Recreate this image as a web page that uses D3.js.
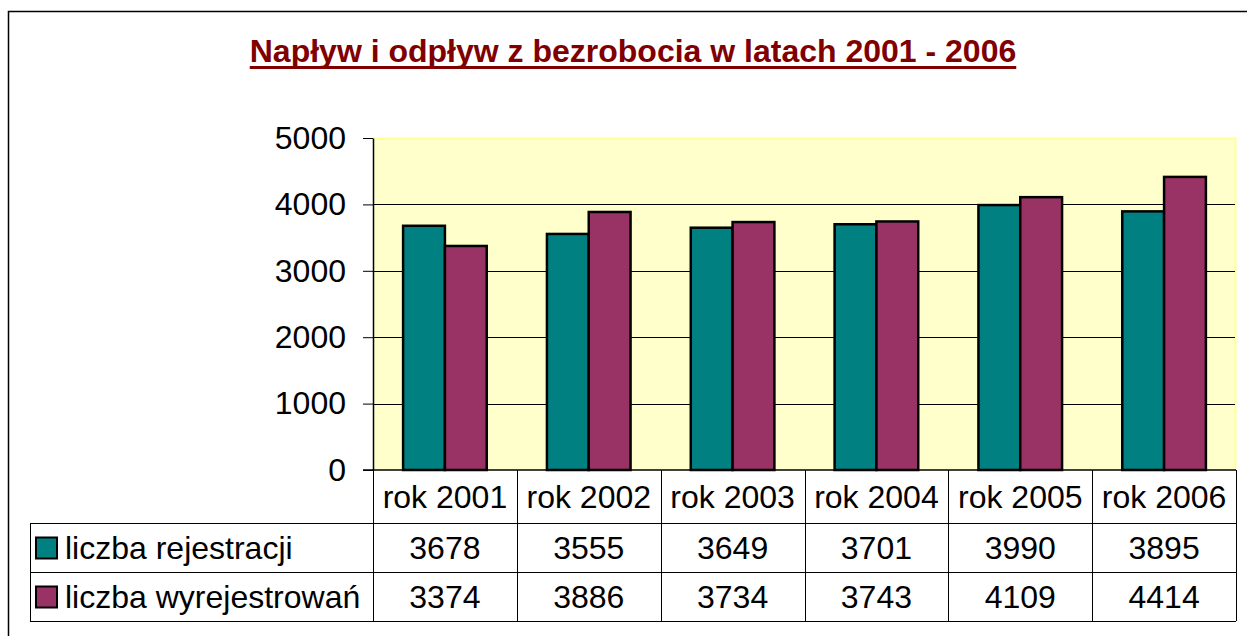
<!DOCTYPE html>
<html>
<head>
<meta charset="utf-8">
<script src="https://cdn.jsdelivr.net/npm/d3@7"></script>
<style>
  body { margin: 0; background: #fff; }
  text { font-family: Arial, "Liberation Sans", sans-serif; }
</style>
</head>
<body>
<script>
const years = ["rok 2001", "rok 2002", "rok 2003", "rok 2004", "rok 2005", "rok 2006"];
const seriesNames = ["liczba rejestracji", "liczba wyrejestrowań"];
const rejestracje = [3678, 3555, 3649, 3701, 3990, 3895];
const wyrejestrowania = [3374, 3886, 3734, 3743, 4109, 4414];
const yTicks = [0, 1000, 2000, 3000, 4000, 5000];
const seriesColors = ["#008080", "#993366"];
const titleText = "Napływ i odpływ z bezrobocia w latach 2001 - 2006";

const width = 1247, height = 636;
const plot = { left: 373, right: 1236, top: 138, bottom: 470 };
const tableLeft = 30;
const rowLines = [470, 523, 572, 621];
const fontSize = "32px";

const svg = d3.select("body").append("svg")
  .attr("width", width)
  .attr("height", height);

// outer chart frame
svg.append("rect")
  .attr("x", 8.5).attr("y", 11.5)
  .attr("width", 1260).attr("height", 650)
  .attr("fill", "#fff")
  .attr("stroke", "#000")
  .attr("stroke-width", 1.5);

// title
const title = svg.append("text")
  .attr("x", 633).attr("y", 62)
  .attr("text-anchor", "middle")
  .attr("fill", "#800000")
  .style("font-weight", "bold")
  .style("font-size", fontSize)
  .text(titleText);
const tb = title.node().getBBox();
svg.append("rect")
  .attr("x", tb.x).attr("y", 66)
  .attr("width", tb.width).attr("height", 3)
  .attr("fill", "#800000");

const x = d3.scaleBand()
  .domain(years)
  .range([plot.left, plot.right]);

const xs = d3.scaleBand()
  .domain(seriesNames)
  .range([0, x.bandwidth()])
  .paddingOuter(0.72);

const y = d3.scaleLinear()
  .domain([0, 5000])
  .range([plot.bottom, plot.top]);

// plot area
svg.append("rect")
  .attr("x", plot.left).attr("y", plot.top)
  .attr("width", plot.right - plot.left)
  .attr("height", plot.bottom - plot.top)
  .attr("fill", "#FFFFCC");
svg.append("path")
  .attr("d", `M${plot.left},${plot.top + 0.5}H${plot.right - 0.5}V${plot.bottom}`)
  .attr("fill", "none")
  .attr("stroke", "#FFFF99")
  .attr("stroke-width", 2);

// gridlines
svg.append("g")
  .selectAll("line")
  .data(yTicks.filter((d) => d > 0 && d < 5000))
  .join("line")
  .attr("x1", plot.left).attr("x2", plot.right - 1)
  .attr("y1", (d) => Math.round(y(d)) + 0.5)
  .attr("y2", (d) => Math.round(y(d)) + 0.5)
  .attr("stroke", "#000")
  .attr("stroke-width", 1);

// bars
const table = years.map((yr, i) => ({ year: yr, values: [rejestracje[i], wyrejestrowania[i]] }));
svg.append("g")
  .selectAll("g")
  .data(table)
  .join("g")
  .attr("transform", (d) => `translate(${x(d.year)},0)`)
  .selectAll("rect")
  .data((d) => d.values.map((v, j) => ({ key: seriesNames[j], value: v, color: seriesColors[j] })))
  .join("rect")
  .attr("x", (d) => xs(d.key))
  .attr("width", xs.bandwidth())
  .attr("y", (d) => y(d.value))
  .attr("height", (d) => y(0) - y(d.value))
  .attr("fill", (d) => d.color)
  .attr("stroke", "#000")
  .attr("stroke-width", 2.5);

// y axis
const yAxis = svg.append("g")
  .attr("transform", `translate(${plot.left},0)`)
  .call(d3.axisLeft(y).tickValues(yTicks).tickFormat(d3.format("d"))
    .tickSize(10).tickPadding(17).tickSizeOuter(0));
yAxis.select(".domain").attr("stroke", "#000").attr("stroke-width", 1.5);
yAxis.selectAll(".tick line").attr("stroke", "#000");
yAxis.selectAll(".tick text")
  .attr("fill", "#000")
  .style("font-size", fontSize)
  .style("font-family", "Arial, 'Liberation Sans', sans-serif");

// data table
const grid = svg.append("g")
  .attr("stroke", "#000")
  .attr("stroke-width", 1);
grid.append("line")
  .attr("x1", plot.left - 10).attr("x2", plot.right)
  .attr("y1", rowLines[0]).attr("y2", rowLines[0])
  .attr("stroke-width", 1.5);
grid.selectAll("line.row")
  .data(rowLines.slice(1))
  .join("line")
  .attr("class", "row")
  .attr("x1", tableLeft).attr("x2", plot.right)
  .attr("y1", (d) => d + 0.5).attr("y2", (d) => d + 0.5);
grid.selectAll("line.col")
  .data(years.map((yr) => x(yr)).concat([plot.right]))
  .join("line")
  .attr("class", "col")
  .attr("x1", (d) => Math.round(d) + 0.5).attr("x2", (d) => Math.round(d) + 0.5)
  .attr("y1", rowLines[0]).attr("y2", rowLines[3]);
grid.append("line")
  .attr("x1", tableLeft + 0.5).attr("x2", tableLeft + 0.5)
  .attr("y1", rowLines[1]).attr("y2", rowLines[3]);

const rowMid = (r) => (rowLines[r] + rowLines[r + 1]) / 2;

svg.append("g")
  .selectAll("text")
  .data(years)
  .join("text")
  .attr("x", (d) => x(d) + x.bandwidth() / 2)
  .attr("y", rowMid(0))
  .attr("dy", "0.35em")
  .attr("text-anchor", "middle")
  .style("font-size", fontSize)
  .text((d) => d);

[rejestracje, wyrejestrowania].forEach((vals, r) => {
  const row = svg.append("g");
  row.selectAll("text")
    .data(vals)
    .join("text")
    .attr("x", (d, i) => x(years[i]) + x.bandwidth() / 2)
    .attr("y", rowMid(r + 1))
    .attr("dy", "0.35em")
    .attr("text-anchor", "middle")
    .style("font-size", fontSize)
    .text((d) => d);

  row.append("rect")
    .attr("x", 36).attr("y", rowMid(r + 1) - 10)
    .attr("width", 21).attr("height", 21)
    .attr("fill", seriesColors[r])
    .attr("stroke", "#000")
    .attr("stroke-width", 2);
  row.append("text")
    .attr("x", 65)
    .attr("y", rowMid(r + 1))
    .attr("dy", "0.35em")
    .style("font-size", fontSize)
    .text(seriesNames[r]);
});
</script>
</body>
</html>
